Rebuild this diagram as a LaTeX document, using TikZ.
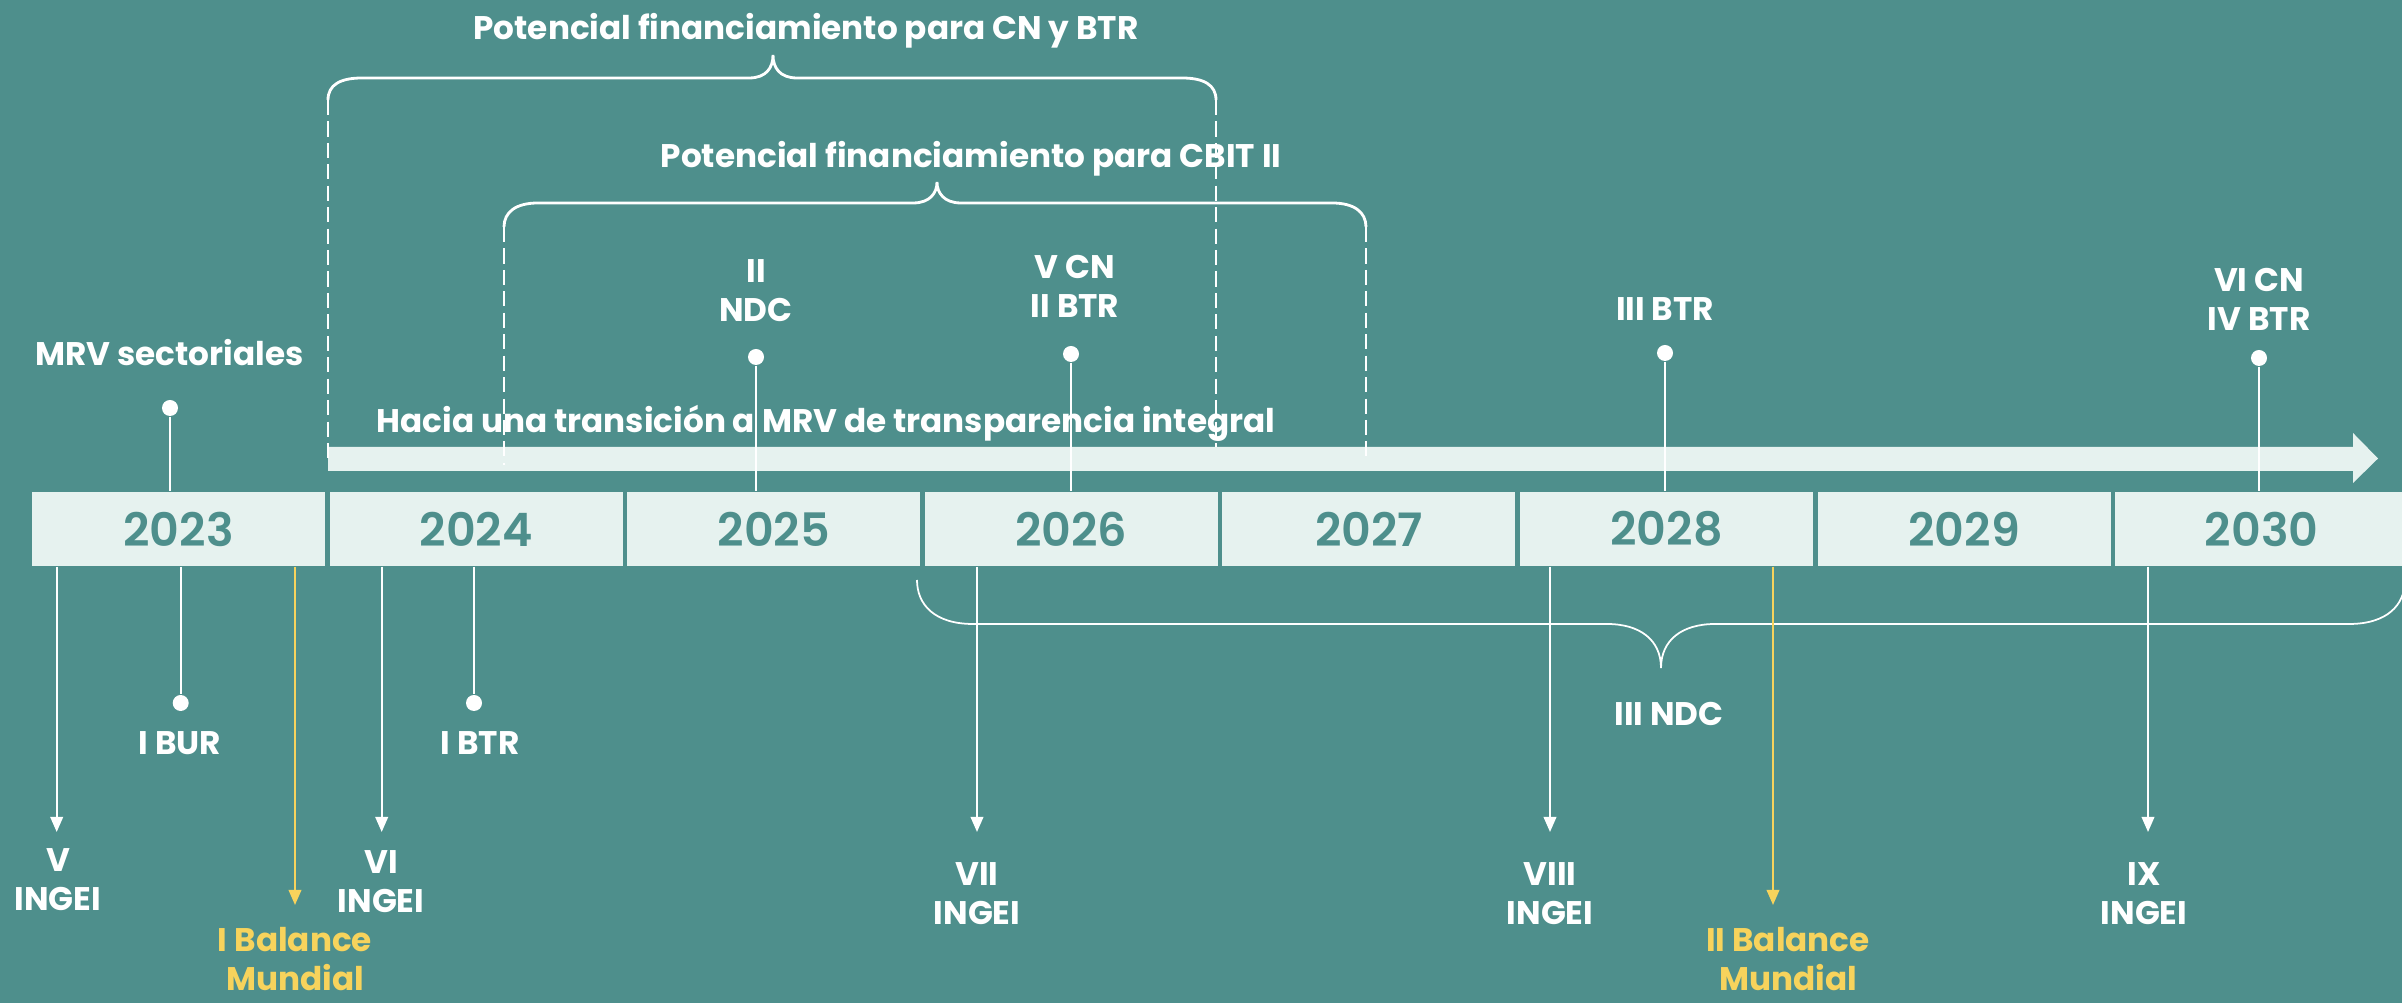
\documentclass[tikz,border=0pt]{standalone}
\usepackage{fontspec}
\setmainfont{Poppins}
\newfontfamily\yearfont{Poppins SemiBold}
\usetikzlibrary{arrows.meta,calc}
\definecolor{bgteal}{HTML}{4E8F8C}
\definecolor{mint}{HTML}{E6F2EF}
\definecolor{gold}{HTML}{F7D35C}
\tikzset{
	yearbox/.style={fill=mint, text=bgteal, minimum width=2.93cm, minimum height=0.74cm, inner sep=0pt,
			font=\yearfont\fontsize{13.1}{16}\selectfont},
	lbl/.style={text=white, anchor=base, align=center, inner sep=0pt, font=\bfseries\fontsize{9.3}{11.1}\selectfont},
	goldlbl/.style={lbl, text=gold},
	stem/.style={draw=white, line width=0.55pt},
	goldstem/.style={draw=gold, line width=0.55pt},
	dotmark/.style={circle, fill=white, inner sep=0pt, minimum size=0.16cm},
	brace/.style={draw=white, line width=0.8pt},
	guide/.style={draw=white, line width=0.55pt, dash pattern=on 4.3pt off 1.8pt},
	pointer/.style={-{Triangle[length=4.3pt,width=3.6pt]}}
}

\begin{document}
\begin{tikzpicture}
	\useasboundingbox (0,0) rectangle (24.02,-10.03);
	\fill[bgteal] (0,0) rectangle (24.02,-10.03);
	\clip (0,0) rectangle (24.02,-10.03);

	\foreach \yr [count=\i from 0] in {2023,...,2030}
		\node[yearbox] (y\yr) at ({1.785+2.976*\i},-5.29) {\yr};

	\draw[brace] (3.28,-1.00) .. controls (3.28,-0.85) and (3.40,-0.78) .. (3.62,-0.78) -- (7.49,-0.78)
		.. controls (7.66,-0.78) and (7.73,-0.68) .. (7.73,-0.55) .. controls (7.73,-0.68) and (7.80,-0.78) .. (7.97,-0.78)
		-- (11.82,-0.78) .. controls (12.04,-0.78) and (12.16,-0.85) .. (12.16,-1.00);
	\draw[brace] (5.04,-2.27) .. controls (5.04,-2.12) and (5.16,-2.03) .. (5.38,-2.03) -- (9.13,-2.03)
		.. controls (9.30,-2.03) and (9.37,-1.93) .. (9.37,-1.82) .. controls (9.37,-1.93) and (9.44,-2.03) .. (9.61,-2.03)
		-- (13.32,-2.03) .. controls (13.54,-2.03) and (13.66,-2.12) .. (13.66,-2.27);
	\node[lbl] (cnbtr) at (8.06,-0.40) {Potencial financiamiento para CN y BTR};
	\node[lbl] (cbit) at (9.71,-1.68) {Potencial financiamiento para CBIT II};

	\fill[mint] (3.28,-4.47) -- (23.53,-4.47) -- (23.53,-4.33) -- (23.78,-4.585) -- (23.53,-4.83)
		-- (23.53,-4.71) -- (3.28,-4.71) -- cycle;
	\node[lbl] (hacia) at (8.26,-4.33) {Hacia una transición a MRV de transparencia integral};

	\draw[guide] (3.28,-1.00) -- (3.28,-4.60);
	\draw[guide] (5.04,-2.27) -- (5.04,-4.65);
	\draw[guide] (12.16,-1.00) -- (12.16,-4.47);
	\draw[guide] (13.66,-2.27) -- (13.66,-4.60);

	\node[dotmark] (mrvdot) at (1.70,-4.08) {};
	\node[dotmark] (ndcdot) at (7.56,-3.57) {};
	\node[dotmark] (cndot) at (10.71,-3.54) {};
	\node[dotmark] (btrdot) at (16.65,-3.53) {};
	\node[dotmark] (ivdot) at (22.59,-3.58) {};
	\foreach \d/\yr in {mrvdot/2023, ndcdot/2025, cndot/2026, btrdot/2028, ivdot/2030}
		\draw[stem] (\d) -- (\d |- y\yr.north);
	\node[lbl] (mrv) at (1.695,-3.66) {MRV sectoriales};
	\node[lbl] (ndcii) at (7.56,-3.22) {II\\NDC};
	\node[lbl] (cnv) at (10.75,-3.18) {V CN\\II BTR};
	\node[lbl] (btriii) at (16.65,-3.21) {III BTR};
	\node[lbl] (cnvi) at (22.59,-3.31) {VI CN\\IV BTR};

	\draw[white, line width=0.5pt] (9.17,-5.80) .. controls (9.17,-6.05) and (9.35,-6.24) .. (9.73,-6.24) -- (16.07,-6.24)
		.. controls (16.40,-6.24) and (16.61,-6.40) .. (16.61,-6.68) .. controls (16.61,-6.40) and (16.82,-6.24) .. (17.15,-6.24)
		-- (23.49,-6.24) .. controls (23.87,-6.24) and (24.05,-6.05) .. (24.05,-5.80);
	\node[lbl] (ndciii) at (16.69,-7.26) {III NDC};

	\node[dotmark] (burdot) at (1.807,-7.03) {};
	\node[dotmark] (btrdoti) at (4.74,-7.03) {};
	\draw[stem] (burdot |- y2023.south) -- (burdot);
	\draw[stem] (btrdoti |- y2024.south) -- (btrdoti);
	\node[lbl] (bur) at (1.80,-7.55) {I BUR};
	\node[lbl] (btri) at (4.80,-7.55) {I BTR};

	\coordinate (ingeiv) at (0.567,-8.32);
	\coordinate (ingeivi) at (3.817,-8.32);
	\coordinate (ingeivii) at (9.77,-8.32);
	\coordinate (ingeiviii) at (15.50,-8.32);
	\coordinate (ingeiix) at (21.48,-8.32);
	\coordinate (balancei) at (2.95,-9.05);
	\coordinate (balanceii) at (17.73,-9.05);
	\foreach \c/\yr in {ingeiv/2023, ingeivi/2024, ingeivii/2026, ingeiviii/2028, ingeiix/2030}
		\draw[stem, pointer] (\c |- y\yr.south) -- (\c);
	\draw[goldstem, pointer] (balancei |- y2023.south) -- (balancei);
	\draw[goldstem, pointer] (balanceii |- y2028.south) -- (balanceii);

	\node[lbl] (v) at (0.58,-9.11) {V\\INGEI};
	\node[lbl] (vi) at (3.81,-9.13) {VI\\INGEI};
	\node[lbl] (vii) at (9.77,-9.25) {VII\\INGEI};
	\node[lbl] (viii) at (15.50,-9.25) {VIII\\INGEI};
	\node[lbl] (ix) at (21.44,-9.25) {IX\\INGEI};
	\node[goldlbl] (bmi) at (2.95,-9.91) {I Balance\\Mundial};
	\node[goldlbl] (bmii) at (17.88,-9.91) {II Balance\\Mundial};
\end{tikzpicture}
\end{document}
